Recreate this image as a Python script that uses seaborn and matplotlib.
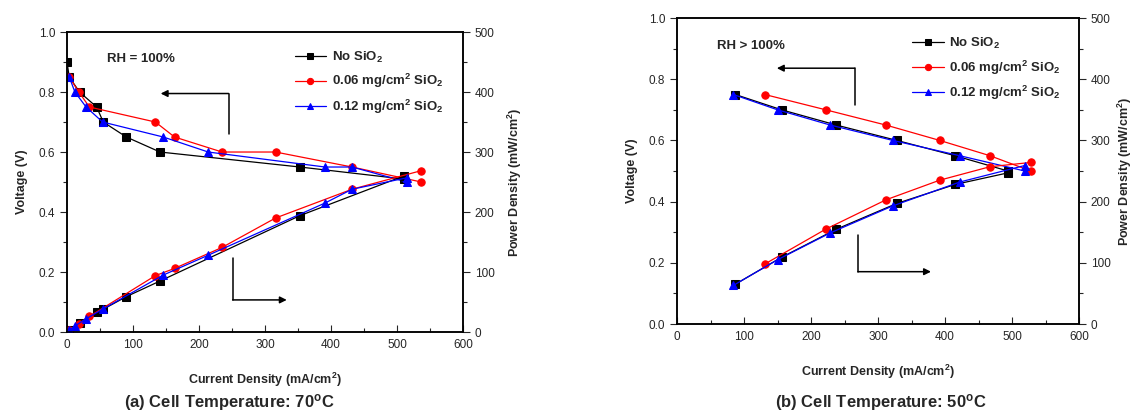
import seaborn as sns
import matplotlib.pyplot as plt
from matplotlib.ticker import MultipleLocator

# -------------------------------
# Data
# -------------------------------
# (a) 70 C, RH = 100%
a_no_i = [0, 3.5, 19, 45, 55, 90, 141, 353, 510]
a_no_v = [0.90, 0.85, 0.80, 0.75, 0.70, 0.65, 0.60, 0.55, 0.51]
a_no_p = [0, 3, 15, 34, 38, 59, 85, 194, 260]

a_06_i = [3.5, 18, 34, 134, 163, 235, 316, 432, 537]
a_06_v = [0.85, 0.80, 0.75, 0.70, 0.65, 0.60, 0.60, 0.55, 0.50]
a_06_p = [3, 14, 26, 94, 106, 141, 190, 238, 269]

a_12_i = [3.5, 12, 29, 54, 146, 214, 391, 432, 515]
a_12_v = [0.85, 0.80, 0.75, 0.70, 0.65, 0.60, 0.55, 0.55, 0.50]
a_12_p = [3, 10, 22, 38, 95, 128, 215, 238, 257]

# (b) 50 C, RH > 100%
b_no_i = [87, 156, 238, 328, 415, 494]
b_no_v = [0.75, 0.70, 0.65, 0.60, 0.55, 0.50]
b_no_p = [65, 109, 155, 197, 228, 247]

b_06_i = [131, 222, 312, 392, 467, 528]
b_06_v = [0.75, 0.70, 0.65, 0.60, 0.55, 0.50]
b_06_p = [98, 155, 203, 235, 257, 264]

b_12_i = [84, 150, 229, 322, 422, 519]
b_12_v = [0.75, 0.70, 0.65, 0.60, 0.55, 0.50]
b_12_p = [63, 105, 149, 193, 232, 259]

labels = ['No SiO$_2$', '0.06 mg/cm$^2$ SiO$_2$', '0.12 mg/cm$^2$ SiO$_2$']
colors = ['black', 'red', 'blue']
markers = ['s', 'o', '^']

sns.set_style('ticks')
plt.rcParams['font.family'] = ['Liberation Sans', 'DejaVu Sans']
plt.rcParams['mathtext.fontset'] = 'custom'
plt.rcParams['mathtext.rm'] = 'Liberation Sans:bold'
plt.rcParams['mathtext.it'] = 'Liberation Sans:bold'
plt.rcParams['mathtext.bf'] = 'Liberation Sans:bold'

fig = plt.figure(figsize=(11.35, 4.17), dpi=100)
ax_a = fig.add_axes([0.0590, 0.2038, 0.3489, 0.7194])
ax_b = fig.add_axes([0.5965, 0.2230, 0.3542, 0.7338])


def draw_panel(ax, series, rh_text, arrows, title, title_x, leg_anchor,
               right_pad):
    ax2 = ax.twinx()
    for (i, v, p), lab, c, m in zip(series, labels, colors, markers):
        sns.lineplot(x=i, y=v, ax=ax, color=c, marker=m, markersize=5.3,
                     markeredgecolor=c, linewidth=0.9, sort=False,
                     estimator=None, label=lab)
        sns.lineplot(x=i, y=p, ax=ax2, color=c, marker=m, markersize=5.3,
                     markeredgecolor=c, linewidth=0.9, sort=False,
                     estimator=None, legend=False)

    ax.set_xlim(0, 600)
    ax.set_ylim(0, 1.0)
    ax2.set_ylim(0, 500)
    ax.xaxis.set_major_locator(MultipleLocator(100))
    ax.xaxis.set_minor_locator(MultipleLocator(50))
    ax.yaxis.set_major_locator(MultipleLocator(0.2))
    ax.yaxis.set_minor_locator(MultipleLocator(0.1))
    ax2.yaxis.set_major_locator(MultipleLocator(100))
    ax2.yaxis.set_minor_locator(MultipleLocator(50))
    ax.yaxis.set_major_formatter(plt.FuncFormatter(lambda val, pos: f'{val:.1f}'))

    ax.tick_params(axis='x', which='both', direction='in', labelsize=8.5,
                   pad=5)
    ax.tick_params(axis='x', which='major', length=5, width=0.8)
    ax.tick_params(axis='x', which='minor', length=3, width=0.8)
    ax.tick_params(axis='y', which='major', direction='out', length=5,
                   width=0.8, labelsize=8.5)
    ax.tick_params(axis='y', which='minor', direction='out', length=3,
                   width=0.8)
    ax2.tick_params(axis='y', which='major', direction='out', length=5,
                    width=0.8, labelsize=8.5)
    ax2.tick_params(axis='y', which='minor', direction='out', length=3,
                    width=0.8)
    for a in (ax, ax2):
        for s in a.spines.values():
            s.set_visible(True)
            s.set_linewidth(1.1)
            s.set_color('black')

    ax.set_xlabel('Current Density (mA/cm$^2$)', fontsize=9,
                  fontweight='bold', labelpad=14)
    ax.set_ylabel('Voltage (V)', fontsize=9, fontweight='bold', labelpad=8)
    ax2.set_ylabel('Power Density (mW/cm$^2$)', fontsize=9,
                   fontweight='bold', labelpad=right_pad)

    ax.text(0.1, 0.91, rh_text, transform=ax.transAxes, fontsize=9.5,
            fontweight='bold', va='center')

    # guide arrows
    for (x0, y0, y1, x1) in arrows:
        ax.plot([x0, x0], [y0, y1], color='black', linewidth=1.1)
        ax.annotate('', xy=(x1, y1), xytext=(x0, y1),
                    arrowprops=dict(arrowstyle='-|>', color='black',
                                    lw=1.1, mutation_scale=10,
                                    shrinkA=0, shrinkB=0))

    leg = ax.legend(loc='upper left', bbox_to_anchor=leg_anchor,
                    frameon=False, fontsize=9.5, handlelength=2.4,
                    handletextpad=0.4, labelspacing=0.55, markerscale=0.85)
    for t in leg.get_texts():
        t.set_fontweight('bold')

    fig.text(title_x, 0.034, title, ha='center', va='center',
             fontsize=12, fontweight='bold')
    return ax2


draw_panel(ax_a,
           [(a_no_i, a_no_v, a_no_p), (a_06_i, a_06_v, a_06_p),
            (a_12_i, a_12_v, a_12_p)],
           'RH = 100%',
           [(245, 0.66, 0.795, 142), (251, 0.247, 0.107, 333)],
           '(a) Cell Temperature: 70$^\\mathrm{o}$C', 229 / 1135,
           (0.545, 0.98), 8)

draw_panel(ax_b,
           [(b_no_i, b_no_v, b_no_p), (b_06_i, b_06_v, b_06_p),
            (b_12_i, b_12_v, b_12_p)],
           'RH > 100%',
           [(265, 0.716, 0.836, 149), (270, 0.291, 0.171, 379)],
           '(b) Cell Temperature: 50$^\\mathrm{o}$C', 881 / 1135,
           (0.555, 0.98), 4)

fig.savefig('out.png', dpi=100)
